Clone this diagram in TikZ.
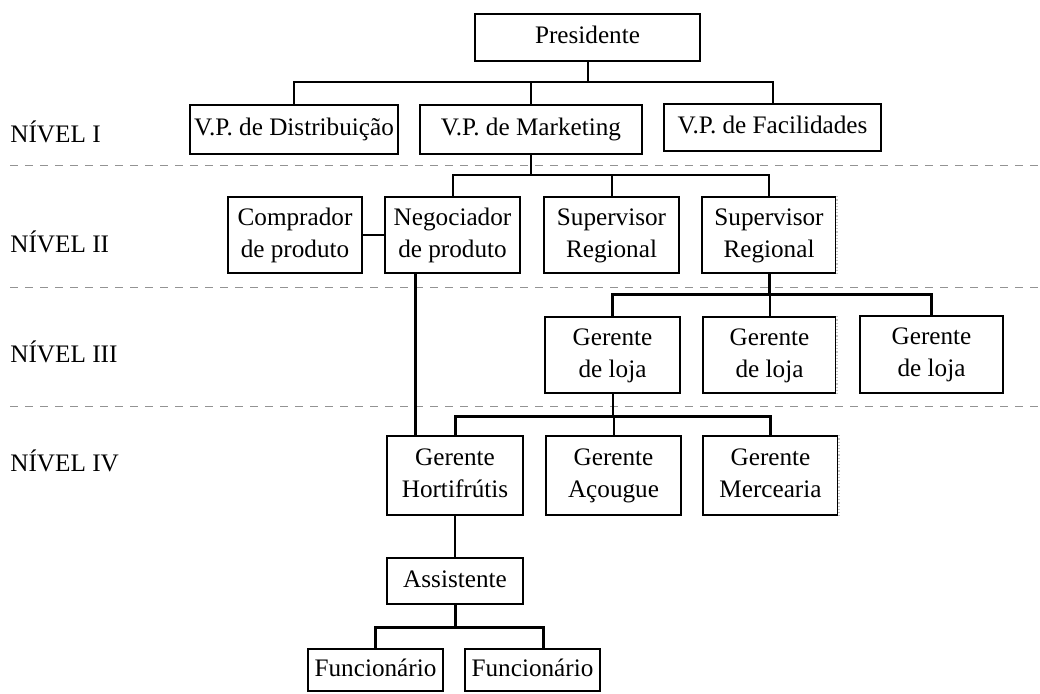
\documentclass[tikz,border=0pt]{standalone}
\usepackage{fontspec}
\setmainfont{Liberation Serif}
\usetikzlibrary{calc}
\begin{document}
\begin{tikzpicture}[x=0.5pt,y=-0.5pt,
  every node/.style={font=\fontsize{12.6}{16}\selectfont},
  box/.style={draw, line width=0.9pt, inner sep=0pt, align=center},
  spot/.style n args={4}{minimum width={(#3-#1)*0.5pt}, minimum height={(#4-#2)*0.5pt},
    at={({(#1+#3)/2},{(#2+#4)/2})}},
  link/.style={line width=1pt},
  heavy/.style={line width=1.5pt},
  level/.style={draw=gray!85, line width=0.5pt, dash pattern=on 4pt off 3.5pt},
  tag/.style={anchor=base west, inner sep=0pt},
  faded/.style={draw=gray!45, line width=0.6pt, densely dotted}]
\useasboundingbox (0,0) rectangle (1040,693);

% level separators
\draw[level] (10,165) -- (1040,165);
\draw[level] (10,287) -- (1040,287);
\draw[level] (10,406) -- (1040,406);

% level labels
\node[tag] (n1) at (10,142) {NÍVEL I};
\node[tag] (n2) at (10,252) {NÍVEL II};
\node[tag] (n3) at (10,362) {NÍVEL III};
\node[tag] (n4) at (10,471) {NÍVEL IV};

% top and level I
\node[box, spot={475}{14}{700}{61}] (pres) {Presidente\strut};
\node[box, spot={190}{105}{398}{154}] (vpd) {V.P. de Distribuição\strut};
\node[box, spot={420}{105}{642}{154}] (vpm) {V.P. de Marketing\strut};
\node[box, spot={664}{104}{881}{151}] (vpf) {V.P. de Facilidades\strut};

% level II
\node[box, spot={228}{197}{362}{273}] (comp) {Comprador\strut\\de produto\strut};
\node[box, spot={385}{197}{520}{273}] (neg) {Negociador\strut\\de produto\strut};
\node[box, spot={544}{197}{679}{273}] (sup1) {Supervisor\strut\\Regional\strut};
\node[box, spot={702}{197}{836}{273}] (sup2) {Supervisor\strut\\Regional\strut};

% level III
\node[box, spot={545}{317}{680}{393}] (gl1) {Gerente\strut\\de loja\strut};
\node[box, spot={703}{317}{836}{393}] (gl2) {Gerente\strut\\de loja\strut};
\node[box, spot={860}{316}{1003}{393}] (gl3) {Gerente\strut\\de loja\strut};

% level IV
\node[box, spot={387}{436}{523}{515}] (hort) {Gerente\strut\\Hortifrútis\strut};
\node[box, spot={546}{436}{681}{515}] (acou) {Gerente\strut\\Açougue\strut};
\node[box, spot={703}{436}{838}{515}] (merc) {Gerente\strut\\Mercearia\strut};

% below level IV
\node[box, spot={387}{558}{523}{604}] (assi) {Assistente\strut};
\node[box, spot={308}{649}{443}{691}] (fun1) {Funcionário\strut};
\node[box, spot={465}{649}{600}{691}] (fun2) {Funcionário\strut};

% worn right borders
\foreach \n in {sup2,gl2,merc}{
  \draw[white, line width=1.3pt] (\n.north east) -- (\n.south east);
  \draw[faded] (\n.north east) -- (\n.south east);
}

% president to vice-presidents
\coordinate (busI) at (0,82);
\draw[link] (pres.south) -- (pres.south |- busI);
\draw[link] (vpd.north) |- (vpf.north |- busI) -- (vpf.north);
\draw[link] (vpm.north) -- (vpm.north |- busI);

% marketing to level II
\coordinate (busII) at (0,175);
\draw[link] (vpm.south) -- (vpm.south |- busII);
\draw[link] (neg.north) |- (sup2.north |- busII) -- (sup2.north);
\draw[link] (sup1.north) -- (sup1.north |- busII);
\draw[link] (comp.east) -- (neg.west);

% regional supervisor to store managers
\coordinate (busIII) at (0,294);
\draw[heavy] (sup2.south) -- (sup2.south |- busIII);
\draw[heavy] (gl1.north) |- (gl3.north |- busIII) -- (gl3.north);
\draw[link] (gl2.north) -- (gl2.north |- busIII);

% store manager to department managers
\coordinate (busIV) at (0,416);
\draw[link] (gl1.south) -- (gl1.south |- busIV);
\draw[heavy] (hort.north) |- (merc.north |- busIV) -- (merc.north);
\draw[link] (acou.north) -- (acou.north |- busIV);

% negotiator to produce manager
\coordinate (negfoot) at ($(neg.south west)+(31,0)$);
\draw[heavy] (negfoot) -- (negfoot |- hort.north);

% produce manager down to staff
\draw[link] (hort.south) -- (assi.north);
\coordinate (busV) at (0,627);
\draw[heavy] (assi.south) -- (assi.south |- busV);
\coordinate (f2top) at ($(fun2.north)+(11,0)$);
\draw[heavy] (fun1.north) |- (f2top |- busV) -- (f2top);
\end{tikzpicture}
\end{document}
